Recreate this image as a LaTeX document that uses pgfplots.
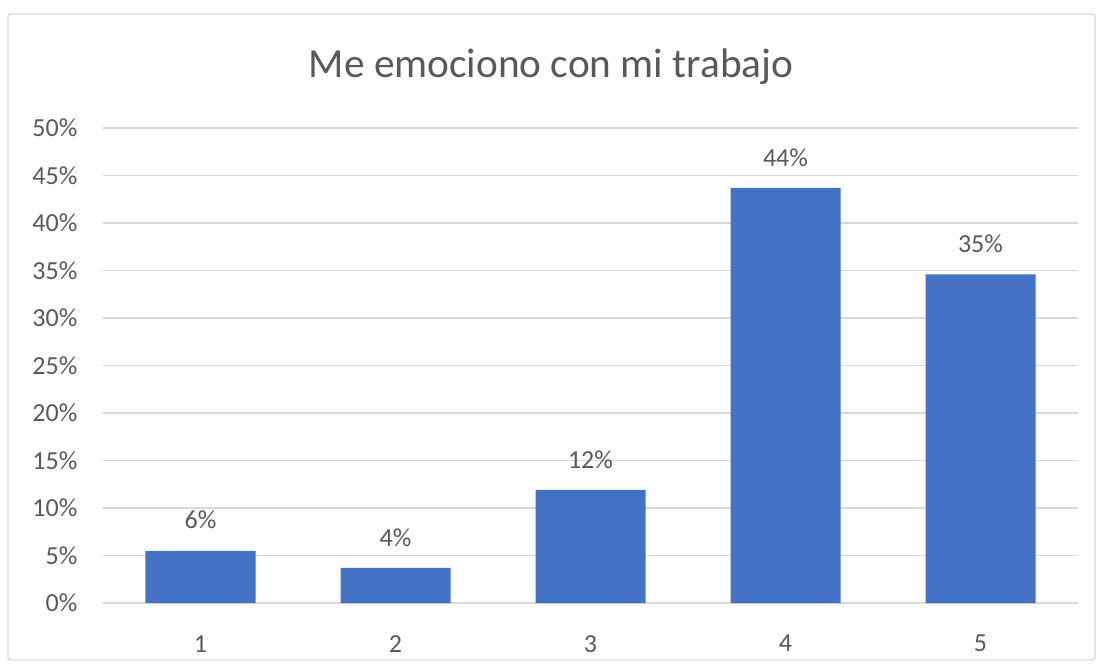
\documentclass[border=0pt]{standalone}
\usepackage{pgfplots}
\pgfplotsset{compat=1.18}
\usepackage{fontspec}
\setmainfont{Carlito}
\definecolor{barblue}{HTML}{4472C4}
\definecolor{gridgray}{HTML}{D9D9D9}
\definecolor{txtgray}{HTML}{595959}
\begin{document}
\begin{tikzpicture}[x=0.75pt,y=0.75pt]
\path[use as bounding box] (0,0) rectangle (1103,669);
\draw[gridgray, line width=1pt, rounded corners=2pt] (8,9) rectangle (1095,655);
\node[anchor=base, text=txtgray, font=\fontsize{31}{36}\selectfont, inner sep=0] at (551,591) {Me emociono con mi trabajo};
\begin{axis}[
  at={(77.25pt,49.5pt)}, anchor=south west,
  scale only axis, width=731.25pt, height=356.25pt,
  xmin=0.5, xmax=5.5, ymin=0, ymax=50,
  xtick={1,2,3,4,5}, ytick={0,5,...,50},
  axis line style={draw=none},
  major tick length=0pt,
  ymajorgrids, grid style={gridgray, line width=1.2pt},
  /pgf/number format/assume math mode=true,
  yticklabel={\pgfmathprintnumber{\tick}\%},
  tick label style={text=txtgray, font=\fontsize{19.5}{22}\selectfont},
  yticklabel style={inner sep=0pt, anchor=east, xshift=-19pt},
  xticklabel style={inner sep=0pt, anchor=north, yshift=-24pt},
  ybar, bar width=82.5pt, bar shift=0pt,
  nodes near coords, point meta=explicit symbolic,
  nodes near coords style={text=txtgray, font=\fontsize{19.5}{22}\selectfont, inner sep=0pt, anchor=south, yshift=16pt},
]
\addplot[fill=barblue, draw=none] coordinates {
  (1,5.5) [6\%]
  (2,3.7) [4\%]
  (3,11.9) [12\%]
  (4,43.7) [44\%]
  (5,34.6) [35\%]
};
\end{axis}
\end{tikzpicture}
\end{document}
